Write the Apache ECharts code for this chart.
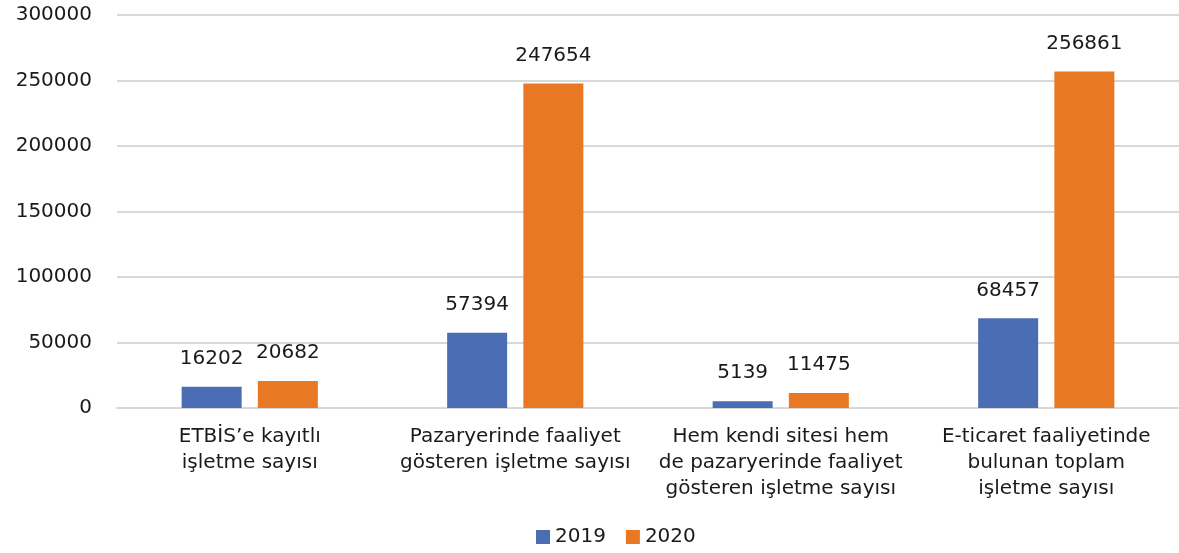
<!DOCTYPE html>
<html><head><meta charset="utf-8">
<script src="https://cdn.jsdelivr.net/npm/echarts@6/dist/echarts.min.js"></script>
<style>html,body{margin:0;padding:0;background:#fff}#c{width:1179px;height:553px}</style>
</head><body><div id="c"></div>
<script>
const categories = [
  "ETBİS’e kayıtlı\nişletme sayısı",
  "Pazaryerinde faaliyet\ngösteren işletme sayısı",
  "Hem kendi sitesi hem\nde pazaryerinde faaliyet\ngösteren işletme sayısı",
  "E-ticaret faaliyetinde\nbulunan toplam\nişletme sayısı"
];
const values2019 = [16202, 57394, 5139, 68457];
const values2020 = [20682, 247654, 11475, 256861];
const seriesNames = ["2019", "2020"];

const FONT = "DejaVu Sans";
const TXT = '#1a1a1a';
const chart = echarts.init(document.getElementById('c'), null, {renderer: 'canvas'});
const labelCfg = {show: true, position: 'top', distance: 18, color: TXT, fontSize: 20, fontFamily: FONT};
chart.setOption({
  animation: false,
  textStyle: {fontFamily: FONT},
  grid: {left: 117, right: 0, top: 15, bottom: 145, containLabel: false},
  legend: {
    bottom: 1, left: 531, itemWidth: 14, itemHeight: 14, itemGap: 20,
    icon: 'rect', textStyle: {fontSize: 20, color: TXT, fontFamily: FONT},
    data: seriesNames
  },
  xAxis: {
    type: 'category', data: categories,
    axisLine: {lineStyle: {color: '#d9d9d9', width: 2}},
    axisTick: {show: false},
    axisLabel: {interval: 0, margin: 16, fontSize: 20, lineHeight: 26, color: TXT, fontFamily: FONT}
  },
  yAxis: {
    type: 'value', min: 0, max: 300000, interval: 50000,
    axisLine: {show: false}, axisTick: {show: false},
    axisLabel: {margin: 25, fontSize: 20, color: TXT, fontFamily: FONT, formatter: v => String(v)},
    splitLine: {lineStyle: {color: '#d9d9d9', width: 2}}
  },
  series: [
    {name: seriesNames[0], type: 'bar', data: values2019, barWidth: 60, barGap: '27%',
     itemStyle: {color: '#4a6db3'}, label: labelCfg},
    {name: seriesNames[1], type: 'bar', data: values2020, barWidth: 60, barGap: '27%',
     itemStyle: {color: '#e97824'}, label: labelCfg}
  ]
});
</script></body></html>
